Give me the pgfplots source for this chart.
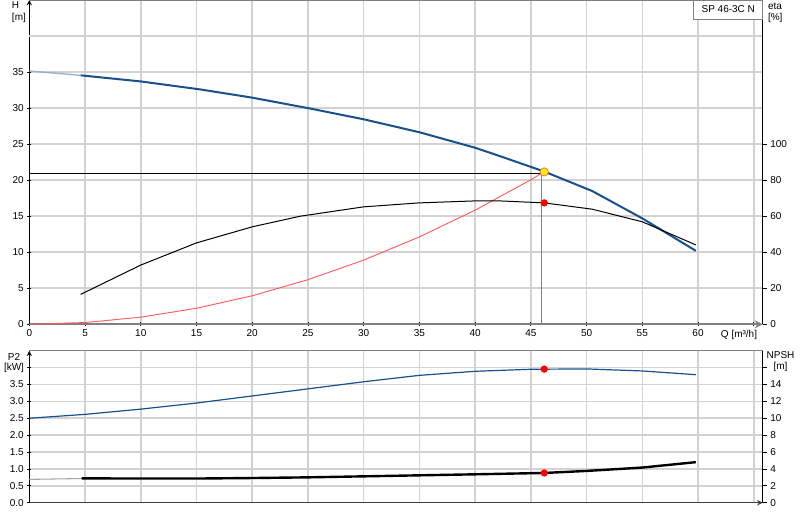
\documentclass[border=0pt]{standalone}
\usepackage{fontspec}
\setmainfont{Liberation Sans}
\usepackage{pgfplots}
\pgfplotsset{compat=1.18}
\definecolor{hblue}{HTML}{17508C}
\definecolor{gridc}{HTML}{D2D2D2}
\definecolor{redl}{HTML}{FF5A5A}
\newcommand{\fs}{\fontsize{7.5}{9}\selectfont}
\begin{document}
\fs
\begin{tikzpicture}
\useasboundingbox (0,0) rectangle (600pt,390pt);
\pgfplotsset{
  base/.style={
    scale only axis, width=550pt, xmin=0, xmax=65.8,
    /pgf/number format/assume math mode=true,
    tick label style={font=\fs, black},
    tick style={black, line width=0.6pt},
    tick align=outside, major tick length=3pt,
    grid style={gridc, line width=1.2pt},
    axis line style={-},
    clip=false,
  }
}
% ---------------- top panel: H ----------------
\begin{axis}[base, at={(22pt,146.75pt)}, anchor=south west, height=243.25pt,
  ymin=0, ymax=45,
  axis lines=left,
  x axis line style={gray, line width=1.6pt},
  y axis line style={black, line width=0.8pt},
  xtick={0,5,...,65},
  xticklabels={0,5,10,15,20,25,30,35,40,45,50,55,60,{}},
  ytick={0,5,...,35},
  yticklabels={0,5,10,15,20,25,30,35},
  extra y ticks={40,45}, extra y tick labels={},
  extra y tick style={major tick length=0pt},
  xmajorgrids=true, ymajorgrids=true,
]
\draw[gray, line width=0.8pt] (rel axis cs:0,1) -- (rel axis cs:1,1);
\addplot[redl, line width=0.7pt] coordinates {(0,0)(5,0.25)(10,0.99)(15,2.23)(20,3.96)(25,6.19)(30,8.91)(35,12.13)(40,15.84)(45,20.05)(45.95,20.95)};
\addplot[black, line width=0.75pt] coordinates {(0,20.95)(45.95,20.95)};
\addplot[gray, line width=0.75pt] coordinates {(45.95,0)(45.95,20.95)};
\addplot[hblue!45, line width=1pt] coordinates {(0,35.15)(4.6,34.55)};
\addplot[hblue, line width=1.5pt] coordinates {(4.6,34.55)(10,33.7)(15.3,32.6)(20,31.45)(25,30.0)(30,28.45)(35,26.65)(40,24.5)(42.2,23.35)(46.2,21.2)(50.5,18.5)(55,14.7)(59.8,10.2)};
\addplot[only marks, mark=*, mark size=3.1pt, mark options={fill=yellow, draw={rgb,255:red,255;green,110;blue,80}, line width=0.6pt}] coordinates {(46.2,21.15)};
\end{axis}
% ---------------- top panel: eta ----------------
\begin{axis}[base, at={(22pt,146.75pt)}, anchor=south west, height=243.25pt,
  ymin=0, ymax=180,
  axis y line*=right, axis x line=none,
  y axis line style={black, line width=1pt},
  ytick={0,20,...,100},
  yticklabels={0,20,40,60,80,100},
]
\addplot[black, line width=0.75pt] coordinates {(4.6,16.6)(10,32.9)(15,45.2)(20,54.1)(24.3,60.0)(30,65.2)(35,67.4)(40,68.5)(42.2,68.5)(46.2,67.4)(50.5,63.9)(55,56.9)(59.8,44.1)};
\addplot[only marks, mark=*, mark size=2.5pt, mark options={fill=red, draw=red}] coordinates {(46.2,67.4)};
\end{axis}
% ---------------- bottom panel: P2 ----------------
\begin{axis}[base, at={(22pt,12.98pt)}, anchor=south west, height=114pt,
  ymin=0, ymax=4.5,
  axis lines=left,
  x axis line style={black!75, line width=0.9pt},
  y axis line style={black, line width=0.8pt},
  xtick={0,5,...,65}, xticklabels={},
  xtick style={draw=none},
  ytick={0,0.5,...,4.0},
  yticklabels={0.0,0.5,1.0,1.5,2.0,2.5,3.0,3.5,{}},
  xmajorgrids=true, ymajorgrids=true,
]
\draw[gray, line width=0.8pt] (rel axis cs:0,1) -- (rel axis cs:1,1);
\addplot[hblue, line width=0.9pt] coordinates {(0,2.50)(5,2.615)(10,2.77)(15,2.95)(20,3.16)(25,3.37)(30,3.58)(35,3.77)(40,3.89)(45,3.95)(50,3.96)(55,3.90)(59.8,3.79)};
\addplot[only marks, mark=*, mark size=2.5pt, mark options={fill=red, draw=red}] coordinates {(46.2,3.955)};
\end{axis}
% ---------------- bottom panel: NPSH ----------------
\begin{axis}[base, at={(22pt,12.98pt)}, anchor=south west, height=114pt,
  ymin=0, ymax=18,
  axis y line*=right, axis x line=none,
  y axis line style={black, line width=1pt},
  ytick={0,2,...,16},
  yticklabels={0,2,4,6,8,10,12,14,{}},
]
\addplot[gray!70, line width=0.8pt] coordinates {(0,2.76)(4.7,2.86)};
\addplot[black, line width=1.8pt] coordinates {(4.7,2.88)(10,2.86)(15,2.86)(20,2.92)(25,3.0)(30,3.12)(35,3.24)(40,3.36)(46.2,3.52)(50,3.76)(55,4.16)(59.8,4.8)};
\addplot[only marks, mark=*, mark size=2.5pt, mark options={fill=red, draw=red}] coordinates {(46.2,3.52)};
\end{axis}
% ---------------- texts ----------------
\node[font=\fs, anchor=west, inner sep=0pt] at (8.8pt,386.2pt) {H};
\node[font=\fs, anchor=west, inner sep=0pt] at (8.8pt,376.6pt) {[m]};
\node[font=\fs, anchor=west, inner sep=0pt] at (575.8pt,385.6pt) {eta};
\node[font=\fs, anchor=west, inner sep=0pt] at (575.8pt,376.6pt) {[\%]};
\node[font=\fs, anchor=east, inner sep=0pt] at (568pt,138.5pt) {Q [m³/h]};
\draw[gray, fill=white, line width=0.6pt] (520.3pt,390pt) rectangle (572pt,375.75pt);
\node[font=\fs, inner sep=0pt] at (546.2pt,382.9pt) {SP 46-3C N};
\node[font=\fs, inner sep=0pt] at (10.5pt,122.5pt) {P2};
\node[font=\fs, inner sep=0pt] at (10.5pt,114.2pt) {[kW]};
\node[font=\fs, inner sep=0pt] at (585.4pt,123.5pt) {NPSH};
\node[font=\fs, inner sep=0pt] at (585.4pt,114.5pt) {[m]};
\end{tikzpicture}
\end{document}
